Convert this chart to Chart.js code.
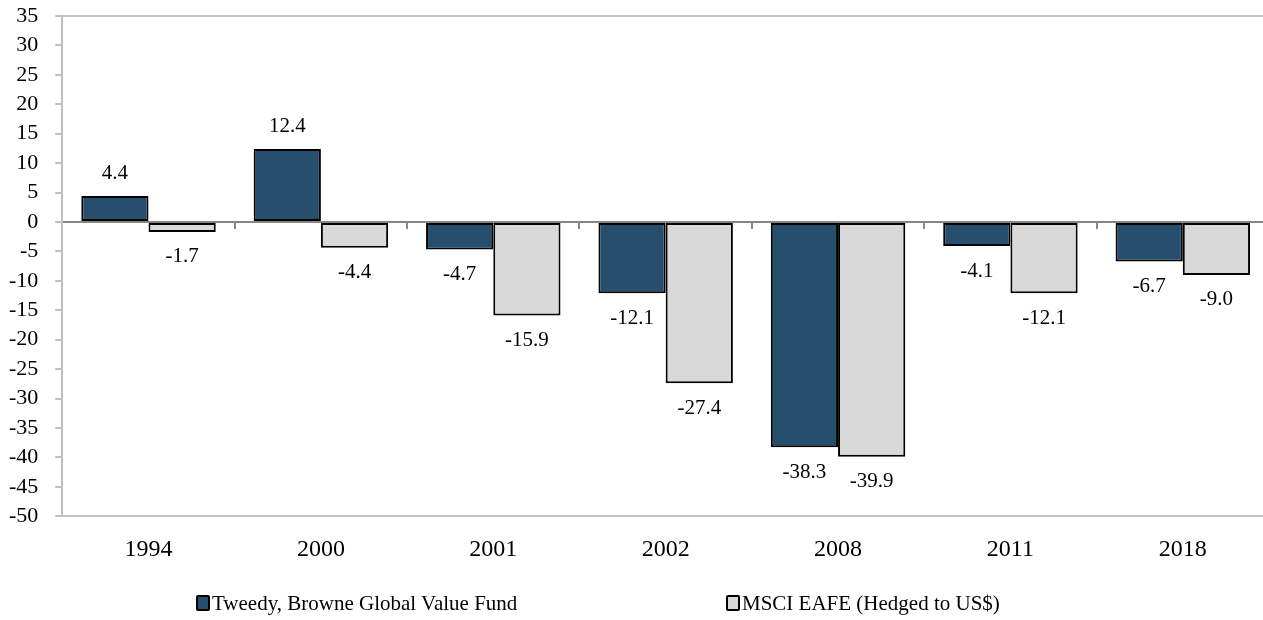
<!DOCTYPE html>
<html>
<head>
<meta charset="utf-8">
<script src="https://cdn.jsdelivr.net/npm/chart.js@4.4.1/dist/chart.umd.min.js"></script>
<style>
    html, body { margin: 0; padding: 0; background: #fff; overflow: hidden; }
    #wrap { position: relative; width: 1270px; height: 620px; }
    .legend-item { position: absolute; top: 591px; height: 24px; display: flex; align-items: center; font-family: "Liberation Serif", serif; font-size: 21px; color: #000; white-space: nowrap; }
    .legend-box { width: 10px; height: 12px; border: 2px solid #000; border-radius: 2px; margin-right: 2px; }
</style>
</head>
<body>
<div id="wrap">
    <canvas id="fundChart"></canvas>
    <div class="legend-item" style="left:196px"><span class="legend-box" style="background:#264f6e"></span>Tweedy, Browne Global Value Fund</div>
    <div class="legend-item" style="left:726px"><span class="legend-box" style="background:#d9d9d9"></span>MSCI EAFE (Hedged to US$)</div>
</div>
<script>
// Calendar years compared (fund vs. hedged index)
const years = ['1994', '2000', '2001', '2002', '2008', '2011', '2018'];
const fundReturns = [4.4, 12.4, -4.7, -12.1, -38.3, -4.1, -6.7];
const indexReturns = [-1.7, -4.4, -15.9, -27.4, -39.9, -12.1, -9.0];
const seriesNames = ['Tweedy, Browne Global Value Fund', 'MSCI EAFE (Hedged to US$)'];
const yMin = -50, yMax = 35, yStep = 5;

const serifFont = '"Liberation Serif", serif';

// Value labels above / below each bar
const barValueLabels = {
    id: 'barValueLabels',
    afterDatasetsDraw(chart) {
        const ctx = chart.ctx;
        ctx.save();
        ctx.font = '21px ' + serifFont;
        ctx.fillStyle = '#000';
        ctx.textAlign = 'center';
        ctx.textBaseline = 'middle';
        chart.data.datasets.forEach((ds, di) => {
            chart.getDatasetMeta(di).data.forEach((bar, i) => {
                const v = ds.data[i];
                const y = v >= 0 ? bar.y - 23 : bar.y + 25;
                ctx.fillText(v.toFixed(1), bar.x, y);
            });
        });
        ctx.restore();
    }
};

// Small tick marks on the zero line between categories
const zeroLineTicks = {
    id: 'zeroLineTicks',
    afterDatasetsDraw(chart) {
        const ctx = chart.ctx;
        const xs = chart.scales.x, ys = chart.scales.y;
        const y0 = ys.getPixelForValue(0);
        ctx.save();
        ctx.strokeStyle = '#868686';
        ctx.lineWidth = 2;
        for (let i = 1; i < years.length; i++) {
            const x = Math.round(xs.getPixelForValue(i - 0.5));
            ctx.beginPath();
            ctx.moveTo(x, y0);
            ctx.lineTo(x, y0 + 7);
            ctx.stroke();
        }
        ctx.restore();
    }
};

new Chart(document.getElementById('fundChart'), {
    type: 'bar',
    data: {
        labels: years,
        datasets: [{
            label: seriesNames[0],
            data: fundReturns,
            backgroundColor: '#264f6e',
            borderColor: '#000',
            borderWidth: 2,
            borderSkipped: false
        }, {
            label: seriesNames[1],
            data: indexReturns,
            backgroundColor: '#d9d9d9',
            borderColor: '#000',
            borderWidth: 2,
            borderSkipped: false
        }]
    },
    options: {
        responsive: true, maintainAspectRatio: false,
        animation: false,
        layout: { padding: { left: 9, right: 1, top: 16, bottom: 37 } },
        datasets: { bar: { barPercentage: 1, categoryPercentage: 0.78 } },
        scales: {
            x: {
                grid: { display: false, drawTicks: false },
                border: { display: false },
                ticks: { color: '#000', font: { family: serifFont, size: 24 }, padding: 19 }
            },
            y: {
                min: yMin, max: yMax,
                z: 1,
                ticks: { stepSize: yStep, color: '#000', font: { family: serifFont, size: 22 }, padding: 17 },
                // keep the wide label gap without it padding the top/bottom or doubling on the left
                afterFit: s => {
                    s.width -= s.options.ticks.padding;
                    s.paddingTop = 4;
                    s.paddingBottom = 4;
                },
                grid: {
                    lineWidth: 2,
                    tickLength: 7,
                    tickColor: '#bfbfbf',
                    color: c => {
                        const v = c.tick && c.tick.value;
                        if (v === 0) return '#868686';
                        if (v === yMax || v === yMin) return '#c4c4c4';
                        return 'rgba(0,0,0,0)';
                    }
                },
                border: { color: '#bfbfbf', width: 2 }
            }
        },
        plugins: {
            legend: { display: false },
            tooltip: { enabled: false }
        }
    },
    plugins: [barValueLabels, zeroLineTicks]
});
</script>
</body>
</html>
